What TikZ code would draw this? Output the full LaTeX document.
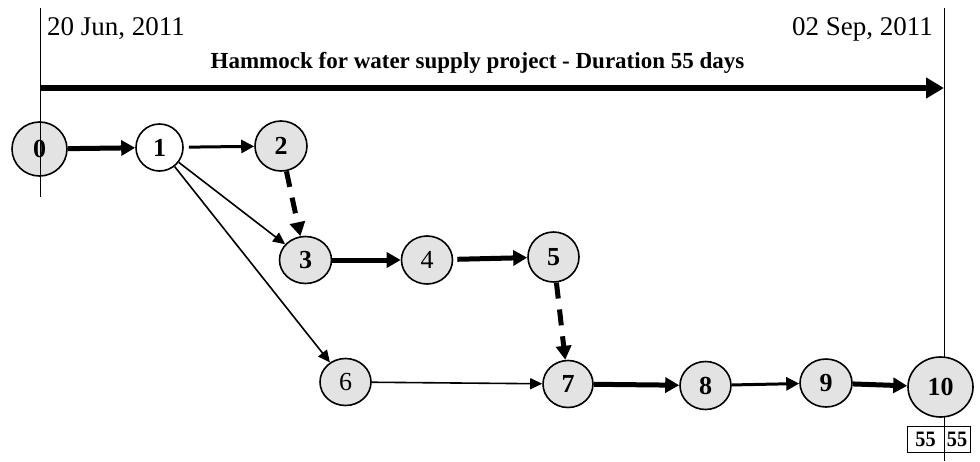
\documentclass[tikz,border=0pt]{standalone}
\usepackage{fontspec}
\setmainfont{Liberation Serif}
\usetikzlibrary{arrows.meta,shapes.geometric}
\begin{document}
\begin{tikzpicture}[x=1pt,y=-1pt,
  evt/.style={ellipse,draw=black,line width=1.6pt,fill=black!11,inner sep=0pt,
    font=\fontsize{26}{28}\selectfont\bfseries},
  evtn/.style={evt,font=\fontsize{26}{28}\selectfont},
  thick arr/.style={line width=5pt,-{Triangle[length=14pt,width=15pt]}},
  mid arr/.style={line width=3pt,-{Triangle[length=13pt,width=13pt]}},
  thin arr/.style={line width=1.6pt,-{Triangle[length=12pt,width=11pt]}},
  dash arr/.style={thick arr,dash pattern=on 16pt off 11pt},
  datetext/.style={font=\fontsize{27}{30}\selectfont,inner sep=0pt},
  finbox/.style={draw,line width=0.8pt,inner sep=0pt,minimum height=26pt,
    font=\fontsize{22}{24}\selectfont\bfseries}]
\useasboundingbox (0,0) rectangle (980,461);

% time line frame (right edge sits behind the final event)
\draw[line width=0.9pt] (944,8) coordinate (rtop) -- (944,461) coordinate (rbot);

% events
\node[evt,minimum width=55pt,minimum height=54pt] (n0) at (39.5,149) {0};
\node[evt,fill=white,minimum width=47pt,minimum height=47pt] (n1) at (159.5,147.5) {1};
\node[evt,minimum width=52pt,minimum height=50pt] (n2) at (281,146) {2};
\node[evt,minimum width=52pt,minimum height=47pt] (n3) at (305.5,260) {3};
\node[evtn,minimum width=51pt,minimum height=48pt] (n4) at (427,260) {4};
\node[evt,minimum width=51pt,minimum height=50pt] (n5) at (553.5,257) {5};
\node[evtn,minimum width=51pt,minimum height=47pt] (n6) at (345.5,382) {6};
\node[evt,minimum width=50pt,minimum height=47pt] (n7) at (568,384) {7};
\node[evt,minimum width=51pt,minimum height=48pt] (n8) at (705.5,385.5) {8};
\node[evt,minimum width=52pt,minimum height=48pt] (n9) at (826,383) {9};
\node[evt,minimum width=65pt,minimum height=60pt] (n10) at (940.5,387) {10};

% left time line edge drawn over the start event
\draw[line width=0.9pt] (40,8) coordinate (ltop) -- (40,197) coordinate (lbot);

% dates and hammock
\node[datetext,anchor=base west] (d0) at (47,35) {20 Jun, 2011};
\node[datetext,anchor=base east] (d1) at (933,35) {02 Sep, 2011};
\node[inner sep=0pt,anchor=base,font=\fontsize{23}{26}\selectfont\bfseries] (ham) at (477.5,68)
  {Hammock for water supply project - Duration 55 days};
\coordinate (hs) at (40,88);
\coordinate (he) at (944,88);
\draw[line width=6pt,-{Triangle[length=18pt,width=20pt]}] (hs) -- (he);

% activities
\draw[thick arr] (n0) -- (n1);
\draw[mid arr,shorten <=5pt] (n1) -- (n2);
\draw[dash arr] (n2) -- (n3);
\draw[thin arr] (n1) -- (n3);
\draw[thin arr] (n1) -- (n6);
\draw[thick arr] (n3) -- (n4);
\draw[thick arr,shorten <=4pt] (n4) -- (n5);
\draw[dash arr] (n5) -- (n7);
\draw[thin arr] (n6) -- (n7);
\draw[thick arr] (n7) -- (n8);
\draw[mid arr] (n8) -- (n9);
\draw[thick arr] (n9) -- (n10);

% finish times
\node[finbox,minimum width=37pt] (tl) at (925.5,439) {\scalebox{0.92}[1]{55}};
\node[finbox,minimum width=26pt] (tr) at (957,439) {\scalebox{0.92}[1]{55}};
\end{tikzpicture}
\end{document}
